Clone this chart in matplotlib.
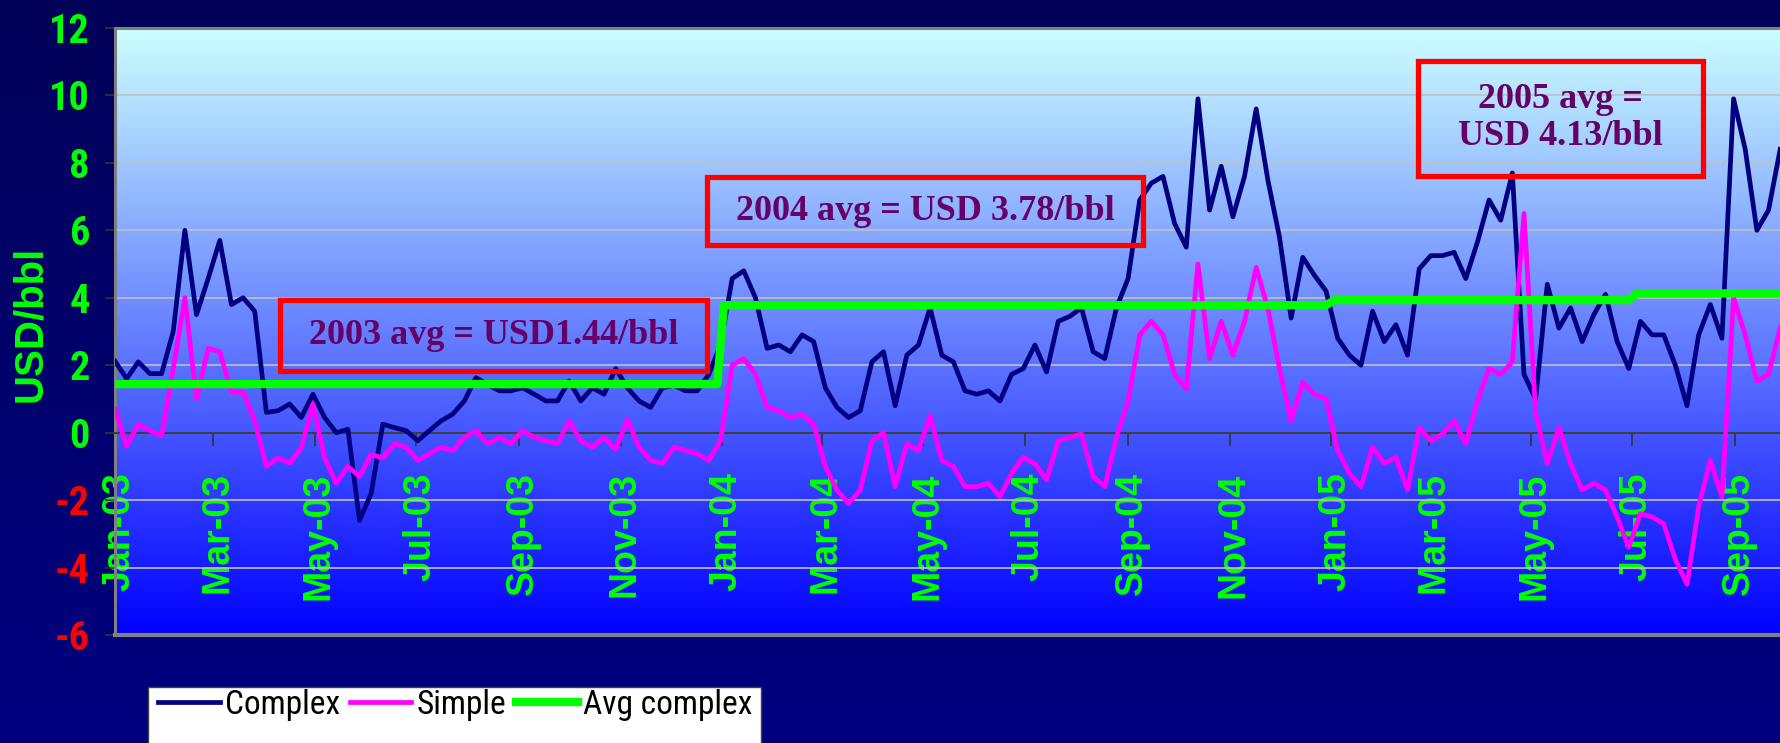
import matplotlib
matplotlib.use("Agg")
import matplotlib.pyplot as plt
from matplotlib.patches import Rectangle
from matplotlib.transforms import ScaledTranslation
import numpy as np
import pandas as pd

# weekly refining margins, USD/bbl, starting first week of 2003
first_week = "2003-01-01"
complex_margin = [
    2.12, 1.6, 2.1, 1.75, 1.75, 3.0, 6.0, 3.5, 4.57, 5.7,
    3.8, 4.0, 3.6, 0.6, 0.65, 0.85, 0.45, 1.14, 0.45, 0.0,
    0.1, -2.6, -1.8, 0.25, 0.15, 0.06, -0.24, 0.06, 0.35, 0.55,
    0.94, 1.63, 1.43, 1.24, 1.24, 1.33, 1.14, 0.94, 0.94, 1.53,
    0.94, 1.33, 1.14, 1.9, 1.33, 0.94, 0.75, 1.33, 1.4, 1.24,
    1.24, 1.73, 2.6, 4.57, 4.8, 4.0, 2.5, 2.6, 2.4, 2.9,
    2.7, 1.33, 0.75, 0.45, 0.65, 2.1, 2.4, 0.8, 2.3, 2.6,
    3.7, 2.3, 2.1, 1.24, 1.14, 1.24, 0.94, 1.73, 1.9, 2.6,
    1.8, 3.3, 3.45, 3.7, 2.4, 2.2, 3.7, 4.57, 6.9, 7.4,
    7.6, 6.2, 5.5, 9.9, 6.6, 7.9, 6.4, 7.6, 9.6, 7.5,
    5.8, 3.4, 5.2, 4.67, 4.2, 2.8, 2.3, 2.0, 3.6, 2.7,
    3.2, 2.3, 4.86, 5.25, 5.25, 5.35, 4.57, 5.65, 6.9, 6.3,
    7.7, 1.73, 1.0, 4.4, 3.1, 3.7, 2.7, 3.5, 4.1, 2.7,
    1.9, 3.3, 2.9, 2.9, 2.0, 0.8, 2.9, 3.8, 2.8, 9.9,
    8.4, 6.0, 6.6, 8.4,
]
simple_margin = [
    0.7, -0.4, 0.25, 0.06, -0.1, 1.9, 4.0, 1.0, 2.5, 2.4,
    1.2, 1.2, 0.35, -1.0, -0.75, -0.9, -0.45, 0.85, -0.75, -1.5,
    -1.0, -1.3, -0.65, -0.75, -0.33, -0.43, -0.82, -0.63, -0.43, -0.53,
    -0.14, 0.06, -0.33, -0.14, -0.33, 0.06, -0.14, -0.24, -0.33, 0.35,
    -0.24, -0.43, -0.14, -0.5, 0.4, -0.43, -0.82, -0.92, -0.43, -0.53,
    -0.63, -0.82, -0.24, 2.0, 2.2, 1.73, 0.75, 0.65, 0.45, 0.55,
    0.25, -1.0, -1.7, -2.1, -1.7, -0.24, 0.0, -1.6, -0.33, -0.53,
    0.5, -0.82, -1.0, -1.6, -1.6, -1.5, -1.9, -1.2, -0.73, -0.92,
    -1.4, -0.24, -0.14, -0.04, -1.3, -1.6, -0.14, 0.94, 2.9, 3.3,
    2.9, 1.73, 1.3, 5.0, 2.2, 3.3, 2.3, 3.3, 4.9, 3.7,
    1.9, 0.35, 1.5, 1.14, 1.0, -0.53, -1.2, -1.6, -0.43, -0.92,
    -0.73, -1.7, 0.15, -0.24, -0.04, 0.35, -0.33, 0.94, 1.9, 1.73,
    2.1, 6.5, 0.6, -0.92, 0.15, -0.92, -1.7, -1.5, -1.7, -2.5,
    -3.4, -2.4, -2.5, -2.7, -3.76, -4.5, -2.2, -0.82, -1.9, 4.0,
    2.9, 1.53, 1.73, 3.1,
]

# yearly average of the complex margin
avg_dates = ["2003-01-01", "2003-12-29", "2004-01-02", "2004-12-29",
             "2005-01-03", "2005-06-29", "2005-07-04", "2005-09-30"]
avg_complex = [1.44, 1.44, 3.78, 3.78, 3.93, 3.93, 4.13, 4.13]

y_ticks = [-6, -4, -2, 0, 2, 4, 6, 8, 10, 12]
month_ticks = pd.date_range("2003-01-01", "2005-09-01", freq="2MS")
notes = ["2003 avg = USD1.44/bbl", "2004 avg = USD 3.78/bbl", "2005 avg =\nUSD 4.13/bbl"]

plt.rcParams["axes.unicode_minus"] = False
sans = "Liberation Sans"
narrow = "Roboto Condensed"
serif = "Liberation Serif"

W, H = 1781, 743
fig = plt.figure(figsize=(W / 100, H / 100), dpi=100)

# dark navy backdrop
bg = fig.add_axes([0, 0, 1, 1], zorder=-10)
t = np.linspace(0, 1, 256)[:, None]
top, bot = np.array([0, 0, 88]) / 255, np.array([0, 0, 128]) / 255
bg.imshow((top * (1 - t) + bot * t)[:, None, :].repeat(2, axis=1), aspect="auto", extent=[0, 1, 0, 1])
bg.axis("off")

ax = fig.add_axes([115 / W, 108 / H, 1666 / W, 607 / H])
ax.patch.set_visible(False)

# plot area gradient: pale cyan to pure blue
c_top, c_bot = np.array([204, 255, 255]) / 255, np.array([0, 0, 255]) / 255
ax.imshow((c_top * (1 - t) + c_bot * t)[:, None, :].repeat(2, axis=1), aspect="auto",
          extent=[0, 1, 0, 1], transform=ax.transAxes, zorder=-1)

weeks = pd.date_range(first_week, periods=len(complex_margin), freq="7D")
ln_c, = ax.plot(weeks, complex_margin, color="#000080", lw=3.4, zorder=3, solid_joinstyle="round")
ln_s, = ax.plot(weeks, simple_margin, color="#FF00FF", lw=3.4, zorder=3, solid_joinstyle="round")
ln_a, = ax.plot(pd.to_datetime(avg_dates), avg_complex, color="#00FF00", lw=6, zorder=3)

start = pd.Timestamp("2003-01-01")
ax.set_xlim(start, start + pd.Timedelta(days=1001.5))
ax.set_ylim(-6, 12)

ax.yaxis.grid(True, color="#c0c0c0", lw=1.2)
ax.set_axisbelow(True)

ax.spines["bottom"].set_position(("data", 0))
ax.spines["bottom"].set_color("#333333")
ax.spines["bottom"].set_linewidth(1.3)
ax.spines["right"].set_visible(False)
for side in ["left", "top"]:
    ax.spines[side].set_color("#808080")
    ax.spines[side].set_linewidth(2.2)
ax.axhline(-6, color="#808080", lw=3, clip_on=False, zorder=4)

ax.set_xticks(month_ticks)
ax.set_xticklabels([d.strftime("%b-%y") for d in month_ticks], rotation=90, family=sans,
                   fontweight="bold", fontsize=27, color="#00FF00")
ax.set_yticks(y_ticks)
ax.set_yticklabels([str(v) for v in y_ticks], family=narrow, fontweight="bold", fontsize=29)
ax.tick_params(axis="x", direction="out", length=9.5, width=1.2, color="#333333", pad=19)
ax.tick_params(axis="y", direction="out", length=7, width=1.2, color="#333333", pad=11)

offset = ScaledTranslation(4 / 100, 0, fig.dpi_scale_trans)
for lab in ax.get_xticklabels():
    lab.set_transform(lab.get_transform() + offset)
for lab, v in zip(ax.get_yticklabels(), y_ticks):
    lab.set_color("#FF0000" if v < 0 else "#00FF00")

fig.text(30 / W, (H - 324) / H, "USD/bbl", rotation=90, ha="center", va="center",
         color="#00FF00", fontsize=29, fontweight="bold", family=sans)

# text boxes with the yearly averages (axes fraction)
boxes = [(0.0990, 0.3553, 0.4349, 0.5519),
         (0.3553, 0.6170, 0.6425, 0.7545),
         (0.7821, 0.9532, 0.7570, 0.9456)]
for (x0, x1, y0, y1), txt in zip(boxes, notes):
    ax.add_patch(Rectangle((x0, y0), x1 - x0, y1 - y0, transform=ax.transAxes,
                           fill=False, edgecolor="#FF0000", lw=3.8, zorder=5))
    ax.text((x0 + x1) / 2, (y0 + y1) / 2, txt, transform=ax.transAxes, ha="center",
            va="center", multialignment="center", linespacing=1.15, color="#660066",
            fontsize=26, fontweight="bold", family=serif, zorder=6)

# legend box runs off the bottom edge
fig.patches.append(Rectangle((148 / W, -0.05), 613 / W, 0.05 + 56 / H, transform=fig.transFigure,
                             facecolor="white", edgecolor="#404040", lw=1, zorder=1))
leg = fig.legend([ln_c, ln_s, ln_a], ["Complex", "Simple", "Avg complex"], ncol=3,
                 loc="center left", bbox_to_anchor=(158 / W, (H - 705) / H), frameon=False,
                 borderpad=0, borderaxespad=0, handlelength=1.85, handletextpad=0.15,
                 columnspacing=0.3, prop={"family": narrow, "size": 24})
leg.set_zorder(2)

fig.savefig("out.png", dpi=100)
